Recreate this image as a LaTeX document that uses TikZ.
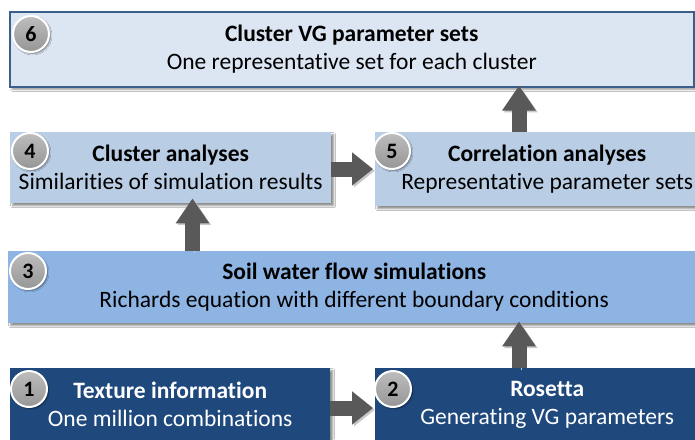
\documentclass[tikz,border=0pt]{standalone}
\usepackage{fontspec}
\setmainfont{Carlito}[Ligatures=NoCommon]
\usetikzlibrary{arrows.meta,shadows.blur}
\definecolor{bxsix}{HTML}{DCE6F2}
\definecolor{bxsixline}{HTML}{3A5F8B}
\definecolor{bxmid}{HTML}{B9CDE5}
\definecolor{bxthree}{HTML}{8EB4E3}
\definecolor{bxdark}{HTML}{1F497D}
\definecolor{arrowgray}{HTML}{595959}
\definecolor{arrowshade}{HTML}{C8C8C8}
\definecolor{circtop}{HTML}{BDBDBD}
\definecolor{circbot}{HTML}{969696}
\tikzset{
  stepbox/.style={rectangle, inner sep=0pt, anchor=north west, align=center,
    font=\fontsize{23.5}{28}\selectfont,
    blur shadow={shadow xshift=2.5pt, shadow yshift=-2.5pt, shadow blur radius=2pt, shadow opacity=45}},
  numcirc/.style={circle, draw=white, line width=2pt, minimum size=36pt, inner sep=0pt,
    top color=circtop, bottom color=circbot, font=\fontsize{22}{22}\selectfont\bfseries,
    blur shadow={shadow xshift=1.5pt, shadow yshift=-1.5pt, shadow blur radius=1.5pt, shadow opacity=50}},
  fatarrowh/.style={line width=15pt, -{Triangle[length=21pt,width=32pt]},
    preaction={draw=arrowshade, transform canvas={xshift=1.8pt,yshift=-1.8pt}},
    draw=arrowgray},
  fatarrowv/.style={line width=15pt, -{Triangle[length=25pt,width=32pt]},
    preaction={draw=arrowshade, transform canvas={xshift=1.8pt,yshift=-1.8pt}},
    draw=arrowgray},
}
\begin{document}
\begin{tikzpicture}[x=1pt,y=-1pt]
\useasboundingbox (0,0) rectangle (695,439);
\clip (0,0) rectangle (695,439);
\fill[white] (0,0) rectangle (695,439);

% boxes
\node[stepbox, fill=bxsix, draw=bxsixline, line width=1.5pt, minimum width=684pt, minimum height=75pt]
  (b6) at (9,11) {\textbf{Cluster VG parameter sets}\\One representative set for each cluster};
\node[stepbox, fill=bxmid, minimum width=321pt, minimum height=71pt]
  (b4) at (10,132) {\textbf{Cluster analyses}\\Similarities of simulation results};
\node[stepbox, fill=bxmid, minimum width=344pt, minimum height=74pt]
  (b5) at (375,132) {\textbf{Correlation analyses}\\Representative parameter sets};
\node[stepbox, fill=bxthree, minimum width=692pt, minimum height=72pt]
  (b3) at (8,251) {\textbf{Soil water flow simulations}\\Richards equation with different boundary conditions};
\node[stepbox, fill=bxdark, text=white, minimum width=320pt, minimum height=73pt]
  (b1) at (10,368) {\textbf{Texture information}\\One million combinations};
\node[stepbox, fill=bxdark, text=white, minimum width=344pt, minimum height=73pt]
  (b2) at (375,368) {\textbf{Rosetta}\\Generating VG parameters};

% number circles
\node[numcirc] (c6) at (31,34) {6};
\node[numcirc] (c4) at (30,151) {4};
\node[numcirc] (c5) at (392,151) {5};
\node[numcirc] (c3) at (28,271) {3};
\node[numcirc] (c1) at (29,389) {1};
\node[numcirc] (c2) at (393,389) {2};

% arrow axes
\coordinate (h12) at (0,408);
\coordinate (h45) at (0,169);
\coordinate (v34) at (192.5,0);
\coordinate (v23) at (519,0);

% connectors
\draw[fatarrowh] (b1.east |- h12) -- ([xshift=-2pt]b2.west |- h12);
\draw[fatarrowv] (b2.north -| v23) -- ([yshift=2pt]b3.south -| v23);
\draw[fatarrowv] (b3.north -| v34) -- ([yshift=5pt]b4.south -| v34);
\draw[fatarrowh] (b4.east |- h45) -- ([xshift=-2pt]b5.west |- h45);
\draw[fatarrowv] (b5.north -| v23) -- ([yshift=2pt]b6.south -| v23);
\end{tikzpicture}
\end{document}
